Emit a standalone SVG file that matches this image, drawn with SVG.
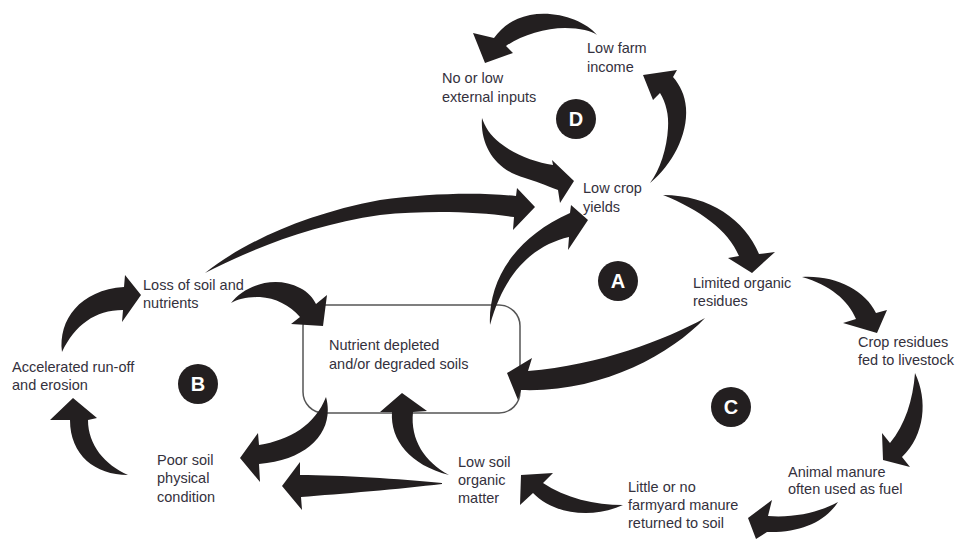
<svg xmlns="http://www.w3.org/2000/svg" width="959" height="540" viewBox="0 0 959 540">
<style>
.t{font-family:"Liberation Sans",Arial,sans-serif;font-size:14.5px;fill:#34313d}
.c{fill:#231f20}
.l{font-family:"Liberation Sans",Arial,sans-serif;font-size:20px;font-weight:bold;fill:#fff;text-anchor:middle}
.a{fill:#231f20}
.box{fill:#fff;stroke:#555;stroke-width:1.5}
</style>
<rect width="959" height="540" fill="#fff"/>
<g id="box-node">
<rect class="box" x="303" y="305" width="217" height="108" rx="21"/>
<text class="t" x="329" y="350">Nutrient depleted</text>
<text class="t" x="329" y="369">and/or degraded soils</text>
</g>
<g id="connectors">
<path class="a" d="M597,35 C585,20 555,10 530,15 C512,19 502,27 494,38 L473,33 L485,63 L513,53 L506,46 C520,36 545,28 565,28 C580,28 592,31 597,35 Z"/>
<path class="a" d="M650,183 C672,165 688,135 686,108 C685,95 680,85 673,77 L677,70 L643,75 L653,100 L660,93 C666,103 669,115 668,128 C667,148 660,170 650,183 Z"/>
<path class="a" d="M482,118 C480,145 495,170 525,178 C535,181 545,185 558,190 L560,203 L574,181 L552,160 L553,165 C535,162 515,155 500,143 C490,135 485,127 482,118 Z"/>
<path class="a" d="M205,273 C240,245 300,215 380,200 C430,193 480,192 516,196 L517,188 L535,207 L513,230 L514,217 C480,212 430,210 380,215 C310,225 250,250 205,273 Z"/>
<path class="a" d="M490,325 C488,285 510,240 570,213 L571,205 L588,220 L568,250 L569,237 C535,245 505,270 490,325 Z"/>
<path class="a" d="M231,303 C245,285 275,275 300,288 C308,292 313,298 316,304 L327,295 L323,326 L291,324 L300,317 C290,305 275,298 260,297 C248,297 238,299 231,303 Z"/>
<path class="a" d="M62,352 C58,320 80,290 124,287 L125,275 L141,295 L122,322 L123,310 C95,310 75,325 62,352 Z"/>
<path class="a" d="M128,475 C95,475 70,455 70,420 L50,420 L73,398 L97,418 L88,420 C88,445 105,465 128,475 Z"/>
<path class="a" d="M326,397 C335,430 310,460 259,464 L260,482 L240,458 L258,433 L259,445 C290,440 315,425 326,397 Z"/>
<path class="a" d="M442,483 C400,479 340,475 300,475 L300,462 L282,486 L302,510 L301,497 C340,494 400,489 442,484 Z"/>
<path class="a" d="M449,475 C410,465 390,440 392,412 L380,412 L402,393 L427,411 L413,412 C410,440 425,462 449,475 Z"/>
<path class="a" d="M705,318 C670,355 600,393 521,390 L518,400 L507,373 L532,358 L528,371 C600,365 665,340 705,318 Z"/>
<path class="a" d="M663,195 C710,195 745,220 759,254 L775,252 L752,273 L728,258 L739,256 C728,230 700,210 663,195 Z"/>
<path class="a" d="M802,277 C835,275 865,290 876,313 L887,310 L877,333 L843,323 L856,319 C848,300 830,285 802,277 Z"/>
<path class="a" d="M915,373 C928,400 925,435 902,457 L910,467 L883,460 L882,433 L890,443 C905,425 913,400 915,373 Z"/>
<path class="a" d="M838,502 C825,522 800,533 767,532 L756,539 L748,518 L772,500 L768,516 C795,518 820,512 838,502 Z"/>
<path class="a" d="M623,505 C590,520 552,513 533,493 L520,505 L521,475 L553,473 L543,483 C565,498 595,505 623,505 Z"/>
</g>
<g id="low-farm-income"><text class="t" x="587" y="53">Low farm</text><text class="t" x="587" y="72">income</text></g>
<g id="no-low-inputs"><text class="t" x="442" y="83">No or low</text><text class="t" x="442" y="102">external inputs</text></g>
<g id="low-crop-yields"><text class="t" x="583" y="193">Low crop</text><text class="t" x="583" y="212">yields</text></g>
<g id="limited-residues"><text class="t" x="693" y="288">Limited organic</text><text class="t" x="693" y="306">residues</text></g>
<g id="loss-of-soil"><text class="t" x="143" y="290">Loss of soil and</text><text class="t" x="143" y="308">nutrients</text></g>
<g id="run-off"><text class="t" x="12" y="372">Accelerated run-off</text><text class="t" x="12" y="390">and erosion</text></g>
<g id="crop-residues-fed"><text class="t" x="858" y="347">Crop residues</text><text class="t" x="858" y="365">fed to livestock</text></g>
<g id="poor-soil"><text class="t" x="157" y="465">Poor soil</text><text class="t" x="157" y="483">physical</text><text class="t" x="157" y="502">condition</text></g>
<g id="low-soil-om"><text class="t" x="458" y="467">Low soil</text><text class="t" x="458" y="485">organic</text><text class="t" x="458" y="503">matter</text></g>
<g id="animal-manure"><text class="t" x="788" y="477">Animal manure</text><text class="t" x="788" y="494">often used as fuel</text></g>
<g id="little-manure"><text class="t" x="628" y="492">Little or no</text><text class="t" x="628" y="510">farmyard manure</text><text class="t" x="628" y="528">returned to soil</text></g>
<g id="loop-A"><circle class="c" cx="618" cy="281" r="20"/><text class="l" x="618" y="288">A</text></g>
<g id="loop-B"><circle class="c" cx="198" cy="384" r="20"/><text class="l" x="198" y="391">B</text></g>
<g id="loop-C"><circle class="c" cx="731" cy="407" r="20"/><text class="l" x="731" y="414">C</text></g>
<g id="loop-D"><circle class="c" cx="576" cy="119" r="20"/><text class="l" x="576" y="126">D</text></g>
</svg>
